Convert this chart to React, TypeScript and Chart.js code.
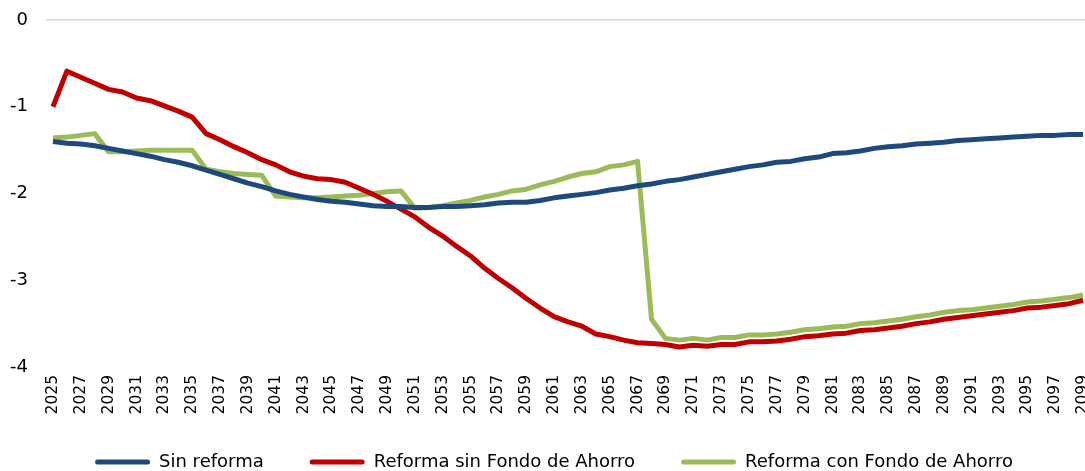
import { useEffect, useRef } from "react";
import { Chart, registerables } from "chart.js";

Chart.register(...registerables);

const years: string[] = Array.from({ length: 75 }, (_, i) => String(2025 + i));

const sinReforma = [
  -1.40, -1.42, -1.43, -1.45, -1.48, -1.51, -1.54, -1.57, -1.61, -1.64,
  -1.68, -1.73, -1.78, -1.83, -1.88, -1.92, -1.97, -2.01, -2.04, -2.07,
  -2.09, -2.10, -2.12, -2.14, -2.15, -2.15, -2.16, -2.16, -2.15, -2.15,
  -2.14, -2.13, -2.11, -2.10, -2.10, -2.08, -2.05, -2.03, -2.01, -1.99,
  -1.96, -1.94, -1.91, -1.89, -1.86, -1.84, -1.81, -1.78, -1.75, -1.72,
  -1.69, -1.67, -1.64, -1.63, -1.60, -1.58, -1.54, -1.53, -1.51, -1.48,
  -1.46, -1.45, -1.43, -1.42, -1.41, -1.39, -1.38, -1.37, -1.36, -1.35,
  -1.34, -1.33, -1.33, -1.32, -1.32,
];

const reformaSinFondo = [
  -1.00, -0.59, -0.66, -0.73, -0.80, -0.83, -0.90, -0.93, -0.99, -1.05,
  -1.12, -1.31, -1.38, -1.46, -1.53, -1.61, -1.67, -1.75, -1.80, -1.83,
  -1.84, -1.87, -1.94, -2.01, -2.09, -2.18, -2.27, -2.39, -2.49, -2.61,
  -2.72, -2.86, -2.98, -3.09, -3.21, -3.32, -3.42, -3.48, -3.53, -3.62,
  -3.65, -3.69, -3.72, -3.73, -3.74, -3.77, -3.75, -3.76, -3.74, -3.74,
  -3.71, -3.71, -3.70, -3.68, -3.65, -3.64, -3.62, -3.61, -3.58, -3.57,
  -3.55, -3.53, -3.50, -3.48, -3.45, -3.43, -3.41, -3.39, -3.37, -3.35,
  -3.32, -3.31, -3.29, -3.27, -3.23,
];

const reformaConFondo = [
  -1.36, -1.35, -1.33, -1.31, -1.52, -1.52, -1.51, -1.50, -1.50, -1.50,
  -1.50, -1.72, -1.75, -1.77, -1.78, -1.79, -2.03, -2.04, -2.05, -2.05,
  -2.04, -2.03, -2.02, -2.00, -1.98, -1.97, -2.17, -2.16, -2.14, -2.11,
  -2.08, -2.04, -2.01, -1.97, -1.95, -1.90, -1.86, -1.81, -1.77, -1.75,
  -1.69, -1.67, -1.63, -3.45, -3.67, -3.69, -3.67, -3.69, -3.66, -3.66,
  -3.63, -3.63, -3.62, -3.60, -3.57, -3.56, -3.54, -3.53, -3.50, -3.49,
  -3.47, -3.45, -3.42, -3.40, -3.37, -3.35, -3.34, -3.32, -3.30, -3.28,
  -3.25, -3.24, -3.22, -3.20, -3.17,
];

const seriesNames = ["Sin reforma", "Reforma sin Fondo de Ahorro", "Reforma con Fondo de Ahorro"];
const seriesColors = ["#1F497D", "#C00000", "#9BBB59"];
const yTicks = [0, -1, -2, -3, -4];

const LEGEND_PAD = 46;

const legendShift = {
  id: "legendShift",
  afterLayout(chart: any) {
    const lg = chart.legend;
    if (!lg) return;
    lg.top = 462 - 9 - LEGEND_PAD;
    lg.bottom = chart.height;
    lg.left += 9;
    lg.right += 9;
  },
};

export default function App() {
  const ref = useRef<HTMLCanvasElement | null>(null);

  useEffect(() => {
    if (!ref.current) return;
    const values = [sinReforma, reformaSinFondo, reformaConFondo];
    const chart = new Chart(ref.current, {
      type: "line",
      data: {
        labels: years,
        datasets: values.map((v, i) => ({
          label: seriesNames[i],
          data: v,
          borderColor: seriesColors[i],
          backgroundColor: seriesColors[i],
          borderWidth: 5,
          pointRadius: 0,
          tension: 0,
          borderJoinStyle: "round" as const,
          fill: false,
        })),
      },
      plugins: [legendShift],
      options: {
        animation: false,
        responsive: false,
        maintainAspectRatio: false,
        layout: { padding: { left: 0, right: 0, top: 20, bottom: 0 } },
        scales: {
          x: {
            offset: true,
            grid: { display: false, drawTicks: false },
            border: { display: false },
            ticks: {
              autoSkip: false,
              minRotation: 90,
              maxRotation: 90,
              padding: 8,
              color: "#000",
              font: { family: "DejaVu Sans", size: 15.5 },
              callback: (_v: any, i: number) => (i % 2 === 0 ? years[i] : ""),
            },
            afterFit: (s: any) => {
              s.height = 60;
              s.paddingLeft = 0;
              s.paddingRight = 0;
            },
          },
          y: {
            min: -4,
            max: 0,
            afterBuildTicks: (s: any) => {
              s.ticks = yTicks.map((v) => ({ value: v }));
            },
            ticks: {
              padding: 18,
              color: "#000",
              font: { family: "DejaVu Sans", size: 18 },
            },
            grid: {
              drawTicks: false,
              lineWidth: 1.5,
              color: (ctx: any) => (ctx.tick && ctx.tick.value === 0 ? "#D9D9D9" : "rgba(0,0,0,0)"),
            },
            border: { display: false },
            afterFit: (s: any) => {
              s.width = 46;
              s.paddingTop = 0;
              s.paddingBottom = 0;
            },
          },
        },
        plugins: {
          tooltip: { enabled: false },
          legend: {
            position: "bottom",
            labels: {
              boxWidth: 55,
              boxHeight: 5,
              padding: LEGEND_PAD,
              color: "#000",
              font: { family: "DejaVu Sans", size: 18 },
              useBorderRadius: true,
              borderRadius: 2.5,
              generateLabels: (c: any) =>
                Chart.defaults.plugins.legend.labels.generateLabels(c).map((l: any) => ({
                  ...l,
                  lineWidth: 0,
                  borderRadius: 2.5,
                })),
            },
          },
        },
      },
    });
    return () => chart.destroy();
  }, []);

  return (
    <div style={{ position: "fixed", left: 0, top: 0, width: 1085, height: 471, overflow: "hidden", background: "#fff" }}>
      <canvas ref={ref} width={1090} height={501} style={{ display: "block" }} />
    </div>
  );
}
